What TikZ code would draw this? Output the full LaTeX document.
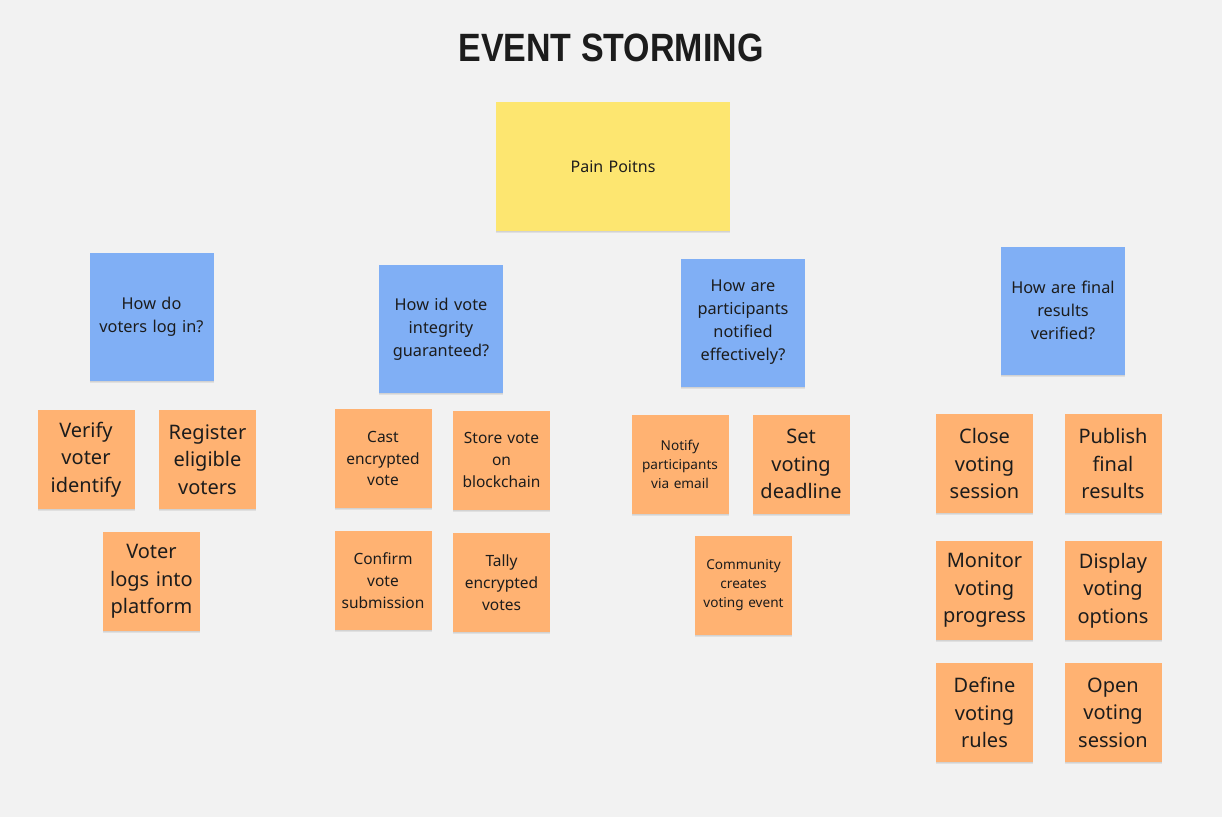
\documentclass[tikz,border=0pt]{standalone}
\usepackage{fontspec}
\setmainfont{Noto Sans}
\newfontfamily\titlefont[FakeStretch=0.86]{Liberation Sans}
\usetikzlibrary{shadows}
\definecolor{board}{HTML}{F2F2F2}
\definecolor{inktext}{HTML}{1C1C1C}
\definecolor{stickyyellow}{HTML}{FDE670}
\definecolor{stickyblue}{HTML}{80AFF5}
\definecolor{stickyorange}{HTML}{FFB272}
\tikzset{
  sticky/.style={draw=none, inner sep=0pt, align=center, text=inktext,
    drop shadow={shadow xshift=0pt, shadow yshift=-2pt, opacity=0.07, fill=black},
    drop shadow={shadow xshift=0pt, shadow yshift=-1pt, opacity=0.06, fill=black}},
  painnote/.style={sticky, fill=stickyyellow, minimum width=234pt, minimum height=129pt,
    text width=200pt, font=\fontsize{16}{22}\selectfont},
  question/.style={sticky, fill=stickyblue, minimum width=124pt, minimum height=128pt,
    text width=112pt, font=\fontsize{16.3}{23}\selectfont},
  eventbig/.style={sticky, fill=stickyorange, minimum width=97pt, minimum height=99pt,
    text width=92pt, font=\fontsize{20}{27.5}\selectfont},
  eventmid/.style={sticky, fill=stickyorange, minimum width=97pt, minimum height=99pt,
    text width=92pt, font=\fontsize{15.5}{21.7}\selectfont},
  eventsmall/.style={sticky, fill=stickyorange, minimum width=97pt, minimum height=99pt,
    text width=92pt, font=\fontsize{13.6}{19}\selectfont},
}
\begin{document}
\begin{tikzpicture}[x=1pt,y=-1pt]
  % board
  \fill[board] (0,0) rectangle (1222,817);
  \useasboundingbox (0,0) rectangle (1222,817);

  % heading
  \node[text=inktext, font=\titlefont\bfseries\fontsize{39.5}{42}\selectfont] (title) at (611,48) {EVENT STORMING};

  % central yellow note
  \node[painnote] (pain) at (613,166.5) {Pain Poitns};

  % questions
  \node[question] (q1) at (151.5,317) {How do\\voters log in?};
  \node[question] (q2) at (441,329) {How id vote\\integrity\\guaranteed?};
  \node[question] (q3) at (743,322.5) {How are\\participants\\notified\\effectively?};
  \node[question] (q4) at (1063,310.5) {How are final\\results\\verified?};

  % events: log in
  \node[eventbig] (verify) at (86,459.5) {Verify\\voter\\identify};
  \node[eventbig] (register) at (207.5,459.5) {Register\\eligible\\voters};
  \node[eventbig] (login) at (151.5,581.5) {Voter\\logs into\\platform};

  % events: vote integrity
  \node[eventmid] (cast) at (383,458.5) {Cast\\encrypted\\vote};
  \node[eventmid] (store) at (501.5,460) {Store vote\\on\\blockchain};
  \node[eventmid] (confirm) at (383,580.5) {Confirm\\vote\\submission};
  \node[eventmid] (tally) at (501.5,582.5) {Tally\\encrypted\\votes};

  % events: notifications
  \node[eventsmall] (notify) at (680,464) {Notify\\participants\\via email};
  \node[eventbig] (deadline) at (801,464) {Set\\voting\\deadline};
  \node[eventsmall] (community) at (743.5,585.5) {Community\\creates\\voting event};

  % events: results
  \node[eventbig] (close) at (984.5,463.5) {Close\\voting\\session};
  \node[eventbig] (publish) at (1113,463.5) {Publish\\final\\results};
  \node[eventbig] (monitor) at (984.5,590.5) {Monitor\\voting\\progress};
  \node[eventbig] (display) at (1113,590.5) {Display\\voting\\options};
  \node[eventbig] (rules) at (984.5,712.5) {Define\\voting\\rules};
  \node[eventbig] (open) at (1113,712.5) {Open\\voting\\session};
\end{tikzpicture}
\end{document}
